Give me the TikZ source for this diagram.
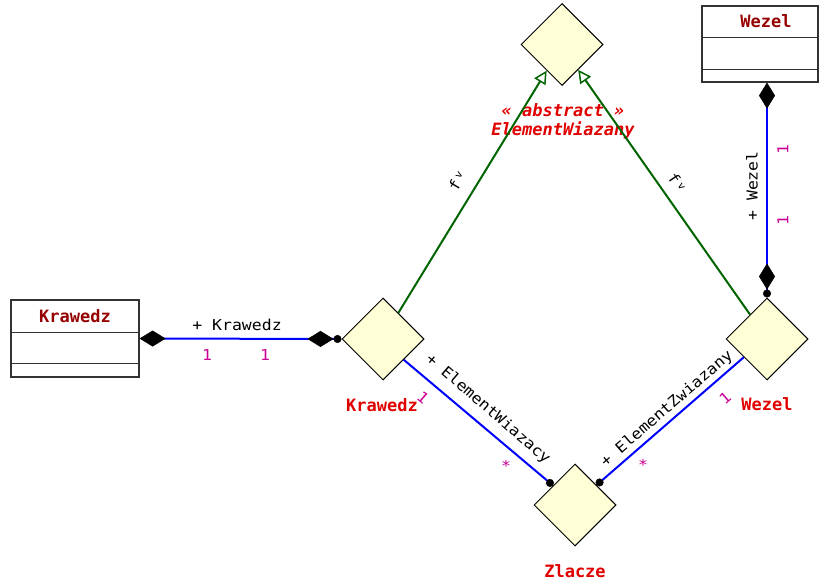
\documentclass[tikz,border=0pt]{standalone}
\usepackage{fontspec}
\setmainfont{DejaVu Sans Mono}
\newfontfamily\lblfont{DejaVu Sans Mono}[FakeStretch=1.1]
\usetikzlibrary{shapes.geometric,arrows.meta,calc}
\definecolor{dfill}{RGB}{255,255,215}
\definecolor{assocblue}{RGB}{0,0,255}
\definecolor{gengreen}{RGB}{0,100,0}
\definecolor{titlered}{RGB}{150,0,0}
\definecolor{lblred}{RGB}{225,0,0}
\definecolor{multmag}{RGB}{205,0,150}
\definecolor{boxgray}{RGB}{50,50,50}
\tikzset{
  compD/.tip={Diamond[length=26pt,width=16pt,color=black,line width=0.5pt]},
  dotC/.tip={Circle[length=8pt,color=black,line width=0.5pt]},
  genT/.tip={Triangle[open,length=13pt,width=13pt,line width=1.5pt,fill=white]},
}
\begin{document}
\begin{tikzpicture}[x=1pt,y=-1pt,
  dnode/.style={diamond,draw=black,line width=1pt,fill=dfill,minimum width=82pt,minimum height=82pt,inner sep=0pt,aspect=1},
  classbox/.style={draw=boxgray,line width=1.2pt,fill=white,inner sep=0pt},
  boxline/.style={draw=boxgray,line width=1.2pt},
  ctitle/.style={font=\fontsize{17}{17}\selectfont\bfseries,text=titlered,inner sep=0pt},
  dlabel/.style={font=\fontsize{17}{17}\selectfont\bfseries,text=lblred,inner sep=0pt},
  abslabel/.style={font=\fontsize{17}{19}\selectfont\bfseries\itshape,text=lblred,inner sep=0pt,align=center},
  rolelbl/.style={font=\lblfont\fontsize{15}{15}\selectfont,text=black,inner sep=0pt},
  mult/.style={font=\lblfont\fontsize{15}{15}\selectfont,text=multmag,inner sep=0pt},
  assoc/.style={draw=assocblue,line width=2pt},
  gen/.style={draw=gengreen,line width=2pt,-{genT[]}},
]
\clip (0,0) rectangle (819,583);
\fill[white] (0,0) rectangle (819,583);

% diamonds
\node[dnode] (top) at (562,44.5) {};
\node[dnode] (kd) at (383,339) {};
\node[dnode] (wd) at (767,339) {};
\node[dnode] (zl) at (575,505) {};

% class boxes
\node[classbox,minimum width=128pt,minimum height=77pt] (kb) at (75,338.5) {};
\draw[boxline] ($(kb.north west)+(0,33)$) -- ($(kb.north east)+(0,33)$);
\draw[boxline] ($(kb.north west)+(0,64)$) -- ($(kb.north east)+(0,64)$);
\node[ctitle] at ($(kb.north)+(0,17)$) {Krawedz};

\node[classbox,minimum width=116pt,minimum height=76pt] (wb) at (760,44) {};
\draw[boxline] ($(wb.north west)+(0,32)$) -- ($(wb.north east)+(0,32)$);
\draw[boxline] ($(wb.north west)+(0,64)$) -- ($(wb.north east)+(0,64)$);
\node[ctitle] at ($(wb.north)+(6,16)$) {Wezel};

% labels of diamonds
\node[dlabel] at ($(kd.south)+(-1,25)$) {Krawedz};
\node[dlabel] at ($(wd.south)+(0,24)$) {Wezel};
\node[dlabel] at ($(zl.south)+(0,25)$) {Zlacze};
\node[abslabel] at ($(top.south)+(1,35)$) {« abstract »\\ElementWiazany};

% generalizations
\draw[gen] ($(kd.north)!0.37!(kd.east)$) -- ($(top.west)!0.63!(top.south)$);
\draw[gen] ($(wd.north)!0.41!(wd.west)$) -- ($(top.east)!0.61!(top.south)$);
\node[rolelbl,rotate=59] at (457,181) {f\,\raisebox{4pt}{\fontsize{10}{10}\selectfont v}};
\node[rolelbl,rotate=-56] at (677,182) {f\,\raisebox{4pt}{\fontsize{10}{10}\selectfont v}};

% associations
\draw[assoc,{compD[]}-{compD[] dotC[]}] (kb.east) -- (kd.west);
\node[rolelbl] at (237,325) {+ Krawedz};
\node[mult] at (207,355) {1};
\node[mult] at (265,355) {1};

\draw[assoc,{compD[]}-{compD[] dotC[]}] (wd.north |- wb.south) -- (wd.north);
\node[rolelbl,rotate=90] at (752,186) {+ Wezel};
\node[mult,rotate=90] at (783,150) {1};
\node[mult,rotate=90] at (783,221) {1};

\draw[assoc,-{dotC[]}] ($(kd.east)!0.5!(kd.south)$) -- ($(zl.west)!0.47!(zl.north)$);
\node[rolelbl,rotate=-40.8] at (488,409) {+ ElementWiazacy};
\node[mult,rotate=-40.8] at (423,398) {1};
\node[mult] at (506,466) {*};

\draw[assoc,-{dotC[]}] ($(wd.west)!0.44!(wd.south)$) -- ($(zl.east)!0.48!(zl.north)$);
\node[rolelbl,rotate=40.8] at (667,409) {+ ElementZwiazany};
\node[mult,rotate=40.8] at (725,398) {1};
\node[mult] at (643,465) {*};
\end{tikzpicture}
\end{document}
